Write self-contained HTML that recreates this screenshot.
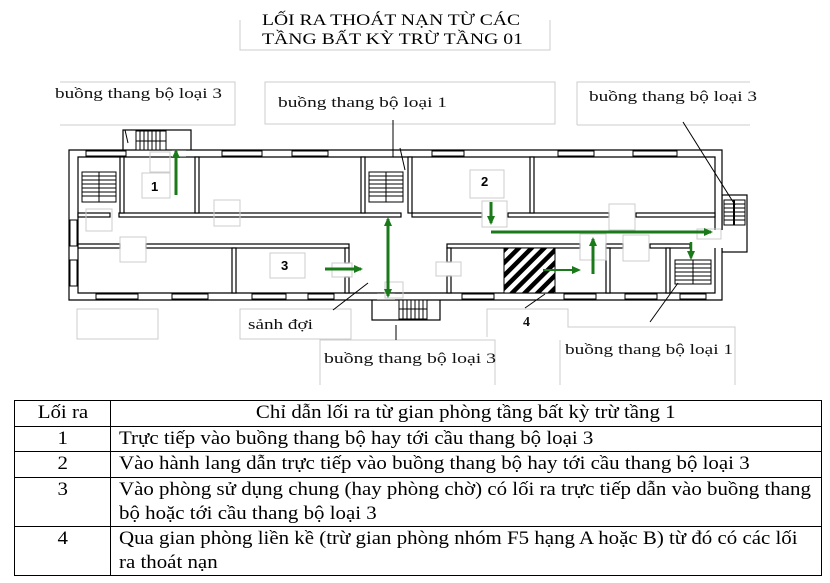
<!DOCTYPE html>
<html><head><meta charset="utf-8"><style>
html,body{margin:0;padding:0;background:#fff;}
body{width:830px;height:583px;position:relative;overflow:hidden;font-family:"Liberation Serif",serif;}
svg{position:absolute;left:0;top:0;}
table{position:absolute;left:14px;top:400px;width:808px;border-collapse:collapse;font-size:19px;line-height:24px;table-layout:fixed;}
td{border:1px solid #000;padding:0 0 0 8px;vertical-align:top;overflow:hidden;}
td.c{text-align:center;padding:0;}
.s{display:inline-block;white-space:nowrap;transform:scaleX(1.1);transform-origin:0 50%;}
.c .s{transform-origin:50% 50%;}
</style></head><body>
<svg width="830" height="400" viewBox="0 0 830 400" font-family="Liberation Serif, serif">
<defs>
<pattern id="h" width="9" height="9" patternUnits="userSpaceOnUse" patternTransform="rotate(45)">
<rect width="9" height="9" fill="#fff"/><rect width="4.5" height="9" fill="#000"/></pattern>
<marker id="a" markerWidth="9" markerHeight="9" refX="7" refY="4.5" orient="auto" markerUnits="userSpaceOnUse"><path d="M0,0.5 L9,4.5 L0,8.5z" fill="#1a7a1a"/></marker>
<marker id="b" markerWidth="9" markerHeight="9" refX="2" refY="4.5" orient="auto" markerUnits="userSpaceOnUse"><path d="M9,0.5 L0,4.5 L9,8.5z" fill="#1a7a1a"/></marker>
</defs>
<!-- title -->
<polyline points="240,20 240,50 550,50 550,20" fill="none" stroke="#ccc"/>
<text x="262" y="25" font-size="16" textLength="258" lengthAdjust="spacingAndGlyphs">LỐI RA THOÁT NẠN TỪ CÁC</text>
<text x="262" y="44" font-size="16" textLength="261" lengthAdjust="spacingAndGlyphs">TẦNG BẤT KỲ TRỪ TẦNG 01</text>
<!-- label boxes -->
<g fill="none" stroke="#ccc">
<polyline points="60,82 235,82 235,125 60,125"/>
<rect x="265" y="82" width="290" height="42"/>
<polyline points="577,125 577,82 750,82"/><line x1="577" y1="125" x2="750" y2="125"/>
<rect x="77" y="309" width="81" height="30"/>
<rect x="240" y="309" width="111" height="30"/>
<polyline points="320,385 320,340 495,340 495,385"/>
<polyline points="487,337 487,309 568,309 568,327 735,327 735,385"/>
<line x1="560" y1="340" x2="560" y2="385"/>
</g>
<g font-size="15" fill="#111" lengthAdjust="spacingAndGlyphs">
<text x="55" y="98" textLength="167" lengthAdjust="spacingAndGlyphs">buồng thang bộ loại 3</text>
<text x="278" y="107" textLength="169" lengthAdjust="spacingAndGlyphs">buồng thang bộ loại 1</text>
<text x="589" y="101" textLength="168" lengthAdjust="spacingAndGlyphs">buồng thang bộ loại 3</text>
<text x="248" y="329" textLength="65" lengthAdjust="spacingAndGlyphs">sảnh đợi</text>
<text x="324" y="363" textLength="172" lengthAdjust="spacingAndGlyphs">buồng thang bộ loại 3</text>
<text x="565" y="354" textLength="168" lengthAdjust="spacingAndGlyphs">buồng thang bộ loại 1</text>
<text x="523" y="326" font-size="14" font-weight="bold">4</text>
</g>
<!-- building walls -->
<g fill="#fff" stroke="#000" stroke-width="1.2">
<rect x="123" y="130" width="68" height="22"/>
<rect x="372" y="298" width="68" height="22"/>
<rect x="722" y="195" width="25" height="57"/>
<path d="M69,150 H722 V300 H69 Z M78,157 V293 H715 V157 Z" fill-rule="evenodd"/>
<rect x="78" y="213" width="32" height="4"/>
<rect x="119" y="213" width="282" height="4"/>
<rect x="412" y="213" width="70" height="4"/>
<rect x="508" y="213" width="101" height="4"/>
<rect x="636" y="213" width="79" height="4"/>
<rect x="78" y="244" width="42" height="4"/>
<rect x="146" y="244" width="203" height="4"/>
<rect x="447" y="244" width="133" height="4"/>
<rect x="606" y="244" width="17" height="4"/>
<rect x="650" y="244" width="40" height="4"/>
<rect x="120" y="157" width="4" height="56"/>
<rect x="195" y="157" width="4" height="56"/>
<rect x="361" y="157" width="4" height="56"/>
<rect x="408" y="157" width="4" height="56"/>
<rect x="530" y="157" width="4" height="56"/>
<rect x="232" y="248" width="4" height="45"/>
<rect x="345" y="248" width="4" height="15"/>
<rect x="345" y="277" width="4" height="16"/>
<rect x="447" y="248" width="4" height="14"/>
<rect x="447" y="276" width="4" height="17"/>
<rect x="606" y="248" width="4" height="45"/>
<rect x="666" y="248" width="4" height="45"/>
</g>
<rect x="172" y="150.6" width="14" height="6" fill="#fff"/>
<rect x="377" y="293.6" width="18" height="6" fill="#fff"/>
<rect x="714" y="230" width="9" height="18" fill="#fff"/>
<line x1="722" y1="230" x2="722" y2="248" stroke="#fff" stroke-width="2"/>
<!-- windows -->
<g stroke="#000" stroke-width="1" fill="#fff">
<rect x="86" y="151" width="40" height="5"/><rect x="222" y="151" width="40" height="5"/><rect x="292" y="151" width="36" height="5"/>
<rect x="432" y="151" width="32" height="5"/><rect x="558" y="151" width="36" height="5"/><rect x="633" y="151" width="44" height="5"/>
<rect x="96" y="294" width="42" height="5"/><rect x="172" y="294" width="36" height="5"/><rect x="252" y="294" width="34" height="5"/><rect x="308" y="294" width="26" height="5"/>
<rect x="462" y="294" width="32" height="5"/><rect x="564" y="294" width="32" height="5"/><rect x="625" y="294" width="32" height="5"/><rect x="680" y="294" width="26" height="5"/>
<rect x="70" y="220" width="7" height="26"/><rect x="70" y="260" width="7" height="26"/>
</g>
<!-- stairs -->
<g stroke="#000" stroke-width="1" fill="#fff">
<rect x="82" y="172" width="34" height="30"/>
<rect x="369" y="172" width="34" height="30"/>
<rect x="675" y="260" width="36" height="24"/>
<rect x="136" y="131" width="30" height="19"/>
<rect x="399" y="300" width="28" height="19"/>
<rect x="724" y="200" width="21" height="25"/>
</g>
<g stroke="#000" stroke-width="1">
<path d="M82,176H116M82,180H116M82,184H116M82,188H116M82,192H116M82,196H116M99,172V202"/>
<path d="M369,176H403M369,180H403M369,184H403M369,188H403M369,192H403M369,196H403M386,172V202"/>
<path d="M675,264H711M675,268H711M675,272H711M675,276H711M675,280H711M693,260V284"/>
<path d="M140,131V150M144,131V150M148,131V150M152,131V150M156,131V150M160,131V150M136,141H166"/>
<path d="M403,300V319M407,300V319M411,300V319M415,300V319M419,300V319M423,300V319M399,309H427"/>
<path d="M724,204H745M724,208H745M724,212H745M724,216H745M724,220H745"/>
<path d="M734,200V225" stroke-width="2"/>
</g>
<rect x="504" y="248" width="51" height="45" fill="url(#h)" stroke="#000"/>
<!-- light door boxes -->
<g fill="none" stroke="#ccc">
<rect x="142" y="173" width="28" height="25"/><rect x="150" y="152" width="20" height="20"/>
<rect x="86" y="209" width="26" height="22"/><rect x="214" y="200" width="26" height="26"/>
<rect x="120" y="237" width="26" height="25"/><rect x="270" y="253" width="35" height="25"/>
<rect x="332" y="263" width="20" height="14"/><rect x="385" y="282" width="18" height="16"/>
<rect x="470" y="170" width="34" height="28"/><rect x="482" y="201" width="25" height="26"/>
<rect x="609" y="204" width="26" height="26"/><rect x="580" y="234" width="26" height="26"/>
<rect x="623" y="235" width="26" height="26"/><rect x="436" y="262" width="25" height="14"/>
<rect x="697" y="229" width="24" height="10"/>
</g>
<g font-size="13" font-weight="bold" font-family="Liberation Sans, sans-serif">
<text x="151" y="191">1</text><text x="481" y="186">2</text><text x="281" y="270">3</text>
</g>
<!-- arrows -->
<g stroke="#1a7a1a" stroke-width="3" fill="none">
<line x1="176" y1="195" x2="176" y2="151" marker-end="url(#a)"/>
<line x1="388" y1="219" x2="388" y2="296" marker-start="url(#b)" marker-end="url(#a)"/>
<line x1="325" y1="269" x2="361" y2="269" marker-end="url(#a)"/>
<line x1="491" y1="202" x2="491" y2="223" marker-end="url(#a)"/>
<line x1="491" y1="232" x2="711" y2="232" marker-end="url(#a)"/>
<line x1="593" y1="274" x2="593" y2="239" marker-end="url(#a)"/>
<line x1="691" y1="242" x2="691" y2="258" stroke-width="2.5" marker-end="url(#a)"/>
<line x1="543" y1="270" x2="579" y2="270" stroke-width="2" marker-end="url(#a)"/>
</g>
<!-- leaders -->
<g stroke="#000" stroke-width="1" fill="none">
<path d="M125,130 L128,143"/>
<line x1="393" y1="120" x2="393" y2="157"/>
<path d="M400,148 L405,170"/>
<line x1="683" y1="122" x2="735" y2="205"/>
<line x1="333" y1="310" x2="368" y2="283"/>
<line x1="396" y1="325" x2="396" y2="340"/>
<line x1="525" y1="308" x2="545" y2="294"/>
<line x1="650" y1="322" x2="678" y2="283"/>
</g>
</svg>
<table>
<colgroup><col style="width:96px"><col></colgroup>
<tr style="height:26px"><td class="c"><span class="s">Lối ra</span></td><td class="c"><span class="s">Chỉ dẫn lối ra từ gian phòng tầng bất kỳ trừ tầng 1</span></td></tr>
<tr style="height:25px"><td class="c"><span class="s">1</span></td><td><span class="s">Trực tiếp vào buồng thang bộ hay tới cầu thang bộ loại 3</span></td></tr>
<tr style="height:26px"><td class="c"><span class="s">2</span></td><td><span class="s">Vào hành lang dẫn trực tiếp vào buồng thang bộ hay tới cầu thang bộ loại 3</span></td></tr>
<tr style="height:49px"><td class="c"><span class="s">3</span></td><td><span class="s">Vào phòng sử dụng chung (hay phòng chờ) có lối ra trực tiếp dẫn vào buồng thang</span><br><span class="s">bộ hoặc tới cầu thang bộ loại 3</span></td></tr>
<tr style="height:49px"><td class="c"><span class="s">4</span></td><td><span class="s">Qua gian phòng liền kề (trừ gian phòng nhóm F5 hạng A hoặc B) từ đó có các lối</span><br><span class="s">ra thoát nạn</span></td></tr>
</table>
</body></html>
